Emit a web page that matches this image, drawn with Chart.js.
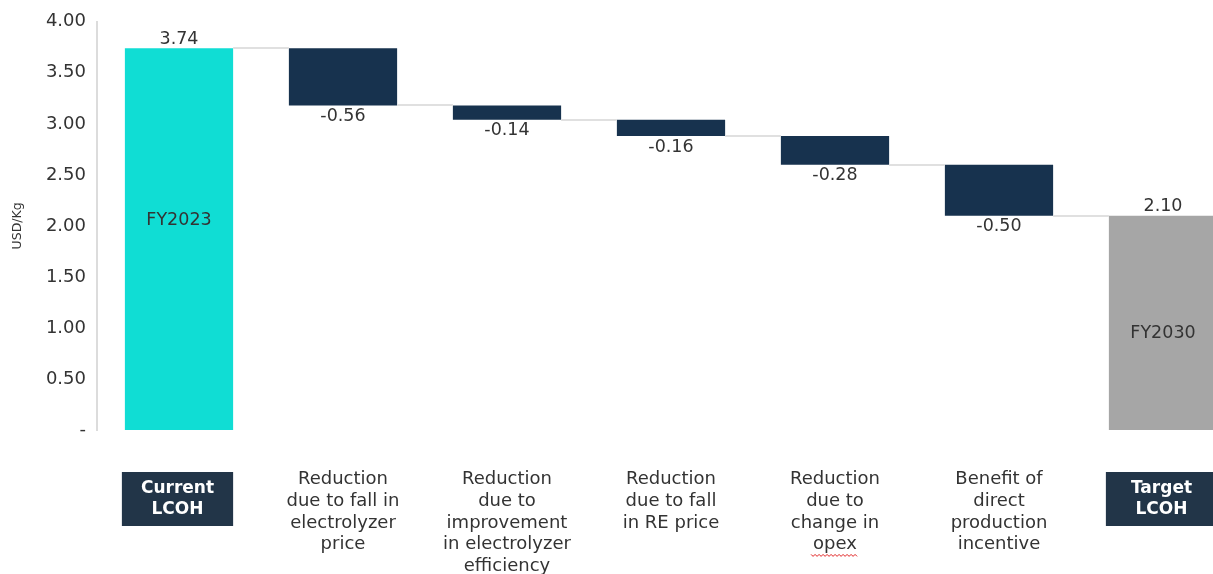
<!DOCTYPE html>
<html>
<head>
<meta charset="utf-8">
<script src="https://cdn.jsdelivr.net/npm/chart.js@4.4.1/dist/chart.umd.min.js"></script>
<style>
  html, body { margin: 0; padding: 0; background: #fff; overflow: hidden; }
  #wrap { position: relative; width: 1250px; height: 574px; }
</style>
</head>
<body>
<div id="wrap"><canvas id="myChart"></canvas></div>
<script>
// data
const categories = [
  ['Current', 'LCOH'],
  ['Reduction', 'due to fall in', 'electrolyzer', 'price'],
  ['Reduction', 'due to', 'improvement', 'in electrolyzer', 'efficiency'],
  ['Reduction', 'due to fall', 'in RE price'],
  ['Reduction', 'due to', 'change in', 'opex'],
  ['Benefit of', 'direct', 'production', 'incentive'],
  ['Target', 'LCOH']
]
const startValue = 3.74
const changes = [-0.56, -0.14, -0.16, -0.28, -0.50]
const endValue = 2.10
const barNames = ['FY2023', 'FY2030']
const yTicks = [0, 0.5, 1, 1.5, 2, 2.5, 3, 3.5, 4]

// floating ranges for the waterfall
let ranges = [[0, startValue]]
let totals = [startValue]
let level = startValue
changes.forEach(c => {
  const next = Math.round((level + c) * 100) / 100
  ranges.push([next, level])
  totals.push(next)
  level = next
})
ranges.push([0, endValue])
const valueLabels = [startValue, ...changes, endValue].map(v => v.toFixed(2))

const TEXT = '#333333'
const FONT = 'DejaVu Sans'
const LINE_H = 21.6
const X_PAD = 39
const last = categories.length - 1
const isBoxed = i => i === 0 || i === last

const barColors = categories.map((c, i) => i === 0 ? '#10ddd4' : (i === last ? '#a6a6a6' : '#17324e'))

// connectors, value labels, boxed category labels
const waterfallPlugin = {
  id: 'waterfall',
  afterDatasetsDraw(chart) {
    const ctx = chart.ctx
    const meta = chart.getDatasetMeta(0)
    const y = chart.scales.y
    ctx.save()
    // connectors
    ctx.strokeStyle = '#e0e0e0'
    ctx.lineWidth = 2
    for (let i = 0; i < last; i++) {
      const a = meta.data[i], b = meta.data[i + 1]
      const py = Math.round(y.getPixelForValue(totals[i] !== undefined ? totals[i] : endValue))
      ctx.beginPath()
      ctx.moveTo(a.x + a.width / 2, py)
      ctx.lineTo(b.x - b.width / 2, py)
      ctx.stroke()
    }
    // value labels
    ctx.font = '17.5px "' + FONT + '"'
    ctx.fillStyle = TEXT
    ctx.textAlign = 'center'
    ctx.textBaseline = 'middle'
    meta.data.forEach((bar, i) => {
      const top = Math.min(bar.y, bar.base)
      const bottom = Math.max(bar.y, bar.base)
      if (isBoxed(i)) ctx.fillText(valueLabels[i], bar.x, top - 9)
      else ctx.fillText(valueLabels[i], bar.x, bottom + 11)
    })
    // names inside first and last bars
    ctx.fillText(barNames[0], meta.data[0].x, y.getPixelForValue(2.05))
    ctx.fillText(barNames[1], meta.data[last].x, y.getPixelForValue(0.95))
    ctx.restore()
  },
  afterDraw(chart) {
    const ctx = chart.ctx
    const meta = chart.getDatasetMeta(0)
    const bottom = chart.chartArea.bottom
    ctx.save()
    ;[0, last].forEach(i => {
      const bar = meta.data[i]
      const left = bar.x - bar.width / 2 - 3
      ctx.fillStyle = '#223548'
      ctx.fillRect(left, bottom + 42, bar.width + 3, 54)
      ctx.fillStyle = '#ffffff'
      ctx.font = 'bold 17px "' + FONT + '"'
      ctx.textAlign = 'center'
      ctx.textBaseline = 'middle'
      const cx = left + (bar.width + 3) / 2
      ctx.fillText(categories[i][0], cx, bottom + 59)
      ctx.fillText(categories[i][1], cx, bottom + 80)
    })
    // spell-check squiggle under "opex"
    const xs = chart.scales.x
    const idx = categories.findIndex(c => c.includes('opex'))
    if (idx >= 0) {
      ctx.font = '18px "' + FONT + '"'
      const w = ctx.measureText('opex').width + 4
      const cx = xs.getPixelForTick(idx)
      const line = categories[idx].indexOf('opex')
      const yy = bottom + X_PAD + LINE_H * line + LINE_H
      ctx.strokeStyle = '#e02020'
      ctx.lineWidth = 1
      ctx.beginPath()
      let first = true
      for (let x = cx - w / 2; x <= cx + w / 2; x += 2) {
        const yv = yy + ((Math.round((x - cx) / 2) % 2) ? 1 : -1)
        if (first) { ctx.moveTo(x, yv); first = false }
        else ctx.lineTo(x, yv)
      }
      ctx.stroke()
    }
    ctx.restore()
  }
}

const data = {
  labels: categories,
  datasets: [{
    data: ranges,
    backgroundColor: barColors,
    borderWidth: 0,
    barPercentage: 0.66,
    categoryPercentage: 1
  }]
}

const config = {
  type: 'bar',
  data,
  options: {
    responsive: true,
    maintainAspectRatio: false,
    animation: false,
    layout: { padding: { top: 20, right: 5, left: 0, bottom: 0 } },
    plugins: {
      legend: { display: false },
      tooltip: { enabled: false }
    },
    scales: {
      x: {
        grid: { display: false, drawTicks: false },
        border: { display: false },
        ticks: {
          autoSkip: false,
          maxRotation: 0,
          crossAlign: 'near',
          padding: X_PAD,
          font: { family: FONT, size: 18, lineHeight: LINE_H / 18 },
          color: c => isBoxed(c.index) ? 'rgba(0,0,0,0)' : TEXT
        },
        afterFit: s => { s.height = 144 }
      },
      y: {
        min: 0,
        max: 4,
        grid: { display: false, drawTicks: false },
        border: { display: true, color: '#dcdcdc', width: 2 },
        afterBuildTicks: s => { s.ticks = yTicks.map(v => ({ value: v })) },
        ticks: {
          padding: 11,
          font: { family: FONT, size: 18 },
          color: TEXT,
          callback: v => v === 0 ? '-' : Number(v).toFixed(2)
        },
        title: {
          display: true,
          text: 'USD/Kg',
          color: TEXT,
          font: { family: FONT, size: 12.5 },
          padding: { top: 10, bottom: 0 }
        },
        afterFit: s => { s.width = 97 }
      }
    }
  },
  plugins: [waterfallPlugin]
}

const myChart = new Chart(document.getElementById('myChart'), config)
</script>
</body>
</html>
